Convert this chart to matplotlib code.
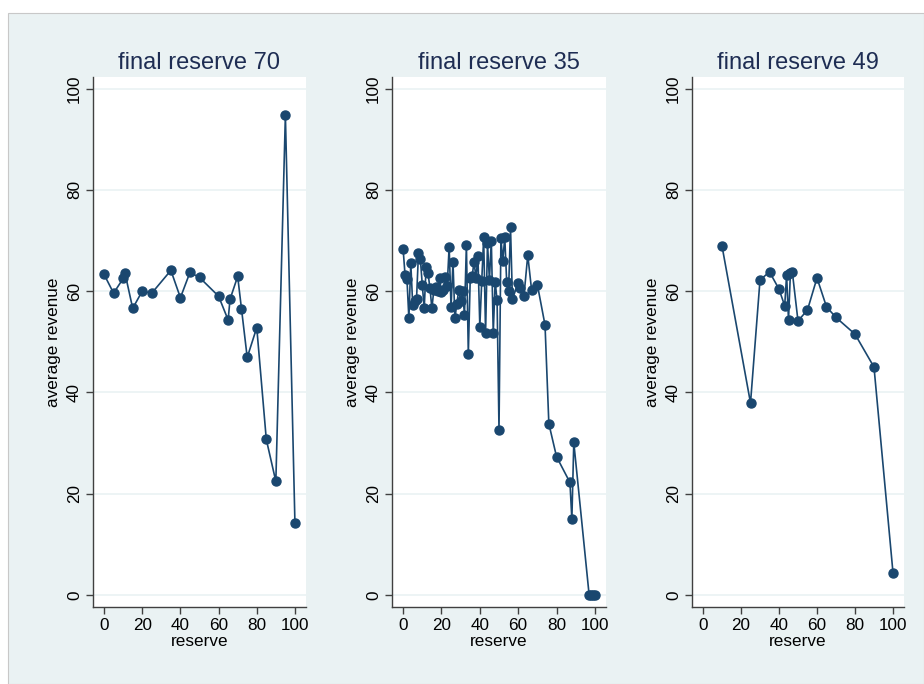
import matplotlib

matplotlib.use("Agg")
import matplotlib.pyplot as plt
from matplotlib.patches import Rectangle

plt.rcParams["font.family"] = ["Liberation Sans", "DejaVu Sans"]

NAVY = "#1a476f"
BACKGROUND = "#eaf2f3"

titles = ["final reserve 70", "final reserve 35", "final reserve 49"]

reserve_70 = [0, 5, 10, 11, 15, 20, 25, 35, 40, 45, 50, 60, 65, 66, 70, 72, 75,
              80, 85, 90, 95, 100]
revenue_70 = [63.3, 59.6, 62.5, 63.5, 56.6, 60.0, 59.6, 64.1, 58.7, 63.7, 62.7,
              59.0, 54.3, 58.4, 62.9, 56.5, 46.9, 52.8, 30.7, 22.4, 94.8, 14.2]

reserve_35 = list(range(0, 58)) + [60, 61, 63, 65, 67, 70, 74, 76, 80, 87, 88,
                                   89, 97, 98, 99, 100]
revenue_35 = [68.3, 63.2, 62.4, 54.6, 65.5, 57.3, 58.0, 58.5, 67.5, 66.3,
              61.2, 56.6, 64.8, 63.5, 60.6, 56.6, 60.2, 60.8, 60.0, 62.5,
              59.8, 60.2, 62.7, 61.0, 68.8, 56.8, 65.8, 54.6, 57.5, 60.2,
              58.0, 60.0, 55.3, 69.2, 47.6, 62.5, 63.0, 65.8, 62.5, 67.0,
              53.0, 62.0, 70.6, 51.7, 69.5, 62.2, 70.0, 51.7, 61.9, 58.2,
              32.6, 70.4, 66.0, 70.7, 61.9, 60.0, 72.7, 58.4,
              61.7, 60.6, 59.0, 67.1, 60.2, 61.3, 53.3, 33.8, 27.3, 22.2,
              14.9, 30.1, 0, 0, 0, 0]

reserve_49 = [10, 25, 30, 35, 40, 43, 44, 45, 46, 47, 50, 55, 60, 65, 70, 80,
              90, 100]
revenue_49 = [68.9, 37.9, 62.2, 63.8, 60.4, 57.1, 63.2, 54.3, 63.5, 63.8, 54.1,
              56.3, 62.6, 56.9, 54.8, 51.5, 45.0, 4.4]

series = [(reserve_70, revenue_70), (reserve_35, revenue_35), (reserve_49, revenue_49)]

fig = plt.figure(figsize=(9.24, 6.84), dpi=100, facecolor="white")
fig.patches.append(
    Rectangle((8 / 924, 0), 916 / 924, 671 / 684, transform=fig.transFigure,
              facecolor=BACKGROUND, edgecolor="#c8c8c8", linewidth=0.8, zorder=-10)
)

lefts = [93, 392, 692]
widths = [213, 214, 212]

for left, width, title, (x, y) in zip(lefts, widths, titles, series):
    ax = fig.add_axes([left / 924, 77 / 684, width / 924, 530 / 684])
    ax.set_facecolor("white")
    ax.plot(x, y, "-o", color=NAVY, linewidth=1.2, markersize=6.5, zorder=3)
    ax.set_xlim(-5.8, 105.8)
    ax.set_ylim(-2.4, 102.3)
    ax.set_xticks(range(0, 101, 20))
    ax.set_yticks(range(0, 101, 20))
    ax.grid(axis="y", color=BACKGROUND, linewidth=1.2, zorder=0)
    ax.set_axisbelow(True)
    for side in ["top", "right"]:
        ax.spines[side].set_visible(False)
    for side in ["left", "bottom"]:
        ax.spines[side].set_color("#404040")
        ax.spines[side].set_linewidth(1.0)
    ax.tick_params(direction="out", length=5, width=1, color="#404040",
                   labelsize=12.3, pad=3)
    for label in ax.get_yticklabels():
        label.set_rotation(90)
        label.set_va("center")
    ax.set_xlabel("reserve", fontsize=12.3, labelpad=1)
    ax.set_ylabel("average revenue", fontsize=12.3, labelpad=4)
    ax.set_title(title, fontsize=17, color="#1e2d53", pad=6)

fig.savefig("out.png", dpi=100, facecolor=fig.get_facecolor())
